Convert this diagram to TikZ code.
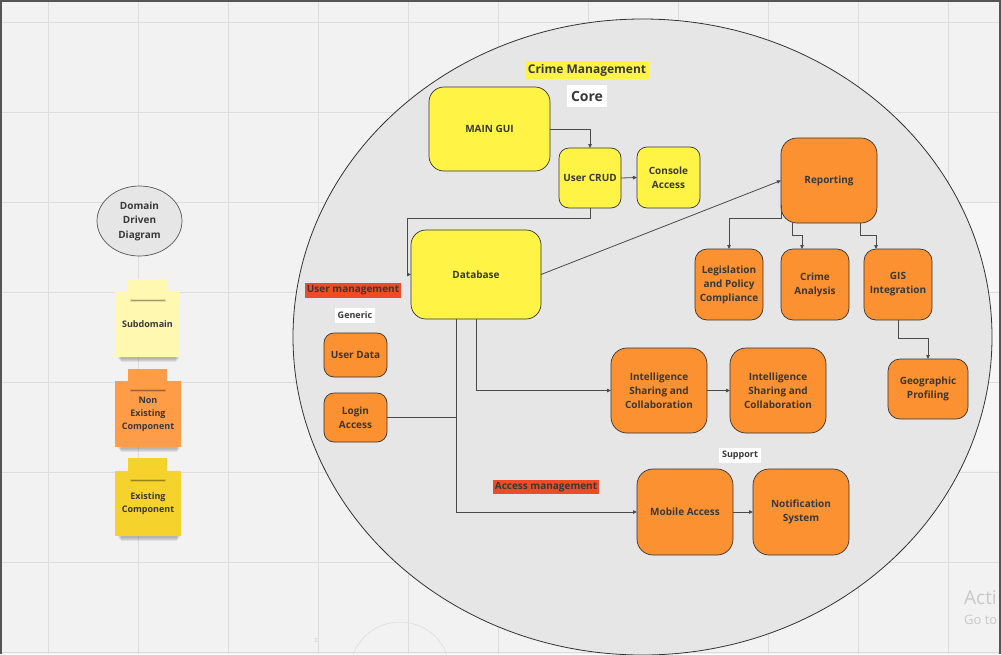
\documentclass[tikz,border=0pt]{standalone}
\usepackage{fontspec}
\setmainfont{Open Sans}
\usetikzlibrary{arrows.meta,calc,shapes.geometric}

\definecolor{bg}{HTML}{F2F2F2}
\definecolor{gridc}{HTML}{DDDDDD}
\definecolor{domain}{HTML}{E6E6E6}
\definecolor{ylw}{HTML}{FFF345}
\definecolor{org}{HTML}{FC9131}
\definecolor{redhl}{HTML}{F04B27}
\definecolor{txt}{HTML}{383838}
\definecolor{edge}{HTML}{333333}
\definecolor{wire}{HTML}{4A4A4A}
\definecolor{notepale}{HTML}{FFF8B0}
\definecolor{noteorg}{HTML}{FF9C48}
\definecolor{noteylw}{HTML}{F6D22C}
\definecolor{frame}{HTML}{555555}
\definecolor{ghost}{HTML}{C8C8C8}

\begin{document}
\begin{tikzpicture}[x=1pt,y=-1pt,
  cbox/.style={draw=edge, line width=0.7pt, inner sep=0pt, outer sep=0pt,
    align=center, text=txt, font=\fontsize{10}{14}\selectfont\bfseries},
  yel/.style={cbox, fill=ylw},
  ora/.style={cbox, fill=org},
  hl/.style={inner sep=0pt, outer sep=0pt, text=txt,
    font=\fontsize{10}{12}\selectfont\bfseries},
  note/.style={inner sep=0pt, outer sep=0pt, align=center, text=txt,
    font=\fontsize{9}{13}\selectfont\bfseries},
  conn/.style={draw=wire, line width=0.8pt, -{Triangle[length=4pt,width=3.5pt]}},
  plain/.style={draw=wire, line width=0.8pt}
]
% canvas
\useasboundingbox (0,0) rectangle (1001,654);
\fill[bg] (0,0) rectangle (1001,654);
\fill[white, opacity=0.35] (947,202) rectangle (1001,470);
\foreach \gx in {48,138,...,948}
  \draw[gridc, line width=0.8pt] (\gx,0) -- (\gx,654);
\foreach \gy in {22,112,...,652}
  \draw[gridc, line width=0.8pt] (0,\gy) -- (1001,\gy);
\draw[gridc, line width=0.6pt] (400,672) circle[radius=50];
\draw[gridc, line width=0.5pt] (315.5,638.5) rectangle (318.5,641.5);

% bounded context
\draw[draw=edge, fill=domain, line width=0.8pt] (642.5,337) ellipse[x radius=349.5, y radius=318];

% section labels
\node[hl, fill=ylw, minimum width=124pt, minimum height=18pt, font=\fontsize{12}{14}\selectfont\bfseries] (tcm) at (587,70) {Crime Management};
\node[hl, fill=white, minimum width=40pt, minimum height=22pt, font=\fontsize{14}{16}\selectfont\bfseries] (tcore) at (587,96) {Core};
\node[hl, fill=redhl, minimum width=96pt, minimum height=15pt] (tum) at (353,290.5) {User management};
\node[hl, fill=white, minimum width=40pt, minimum height=15pt, font=\fontsize{9}{11}\selectfont\bfseries] (tgen) at (355,315.5) {Generic};
\node[hl, fill=redhl, minimum width=106pt, minimum height=14pt] (tam) at (546,487) {Access management};
\node[hl, fill=white, minimum width=42pt, minimum height=15pt, font=\fontsize{9}{11}\selectfont\bfseries] (tsup) at (740,455.5) {Support};

% core components
\node[yel, rounded corners=15pt, minimum width=121pt, minimum height=84pt] (gui) at (489.5,129) {MAIN GUI};
\node[yel, rounded corners=10pt, minimum width=62pt, minimum height=60pt] (crud) at (590,178) {User CRUD};
\node[yel, rounded corners=10pt, minimum width=63pt, minimum height=61pt] (console) at (668.5,177.5) {Console\\Access};
\node[yel, rounded corners=15pt, minimum width=130pt, minimum height=89pt] (db) at (476,274.5) {Database};

\node[ora, rounded corners=16pt, minimum width=96pt, minimum height=85pt] (rep) at (829,180.5) {Reporting};
\node[ora, rounded corners=12pt, minimum width=68pt, minimum height=71pt] (leg) at (729,284.5) {Legislation\\and Policy\\Compliance};
\node[ora, rounded corners=12pt, minimum width=68pt, minimum height=71pt] (crime) at (815,284.5) {Crime\\Analysis};
\node[ora, rounded corners=12pt, minimum width=68pt, minimum height=71pt] (gis) at (898,284.5) {GIS\\Integration};
\node[ora, rounded corners=12pt, minimum width=80pt, minimum height=60pt] (geo) at (928,389) {Geographic\\Profiling};
\node[ora, rounded corners=16pt, minimum width=96pt, minimum height=85pt] (intel1) at (659,390.5) {Intelligence\\Sharing and\\Collaboration};
\node[ora, rounded corners=16pt, minimum width=96pt, minimum height=85pt] (intel2) at (778,390.5) {Intelligence\\Sharing and\\Collaboration};

% generic and support components
\node[ora, rounded corners=10pt, minimum width=63pt, minimum height=44pt] (udata) at (355.5,355) {User Data};
\node[ora, rounded corners=10pt, minimum width=63pt, minimum height=49pt] (login) at (355.5,417.5) {Login\\Access};
\node[ora, rounded corners=16pt, minimum width=96pt, minimum height=86pt] (mobile) at (685,512) {Mobile Access};
\node[ora, rounded corners=16pt, minimum width=96pt, minimum height=86pt] (notif) at (801,512) {Notification\\System};

% connectors
\coordinate (bend1) at (407,218);
\coordinate (join1) at (456,417.5);
\draw[conn] (gui.east) -| (crud.north);
\draw[conn] (crud.east) -- (console.west);
\draw[conn] (crud.south) |- (bend1) |- (db.west);
\draw[conn] (db.east) -- (rep.west);
\draw[conn] ([yshift=-24pt]rep.west) -- ++(0,14) -| (leg.north);
\draw[conn] ([xshift=-37pt]rep.south) -- ++(0,12) -| ([xshift=-13pt]crime.north);
\draw[conn] ([xshift=31pt]rep.south) -- ++(0,12) -| ([xshift=-22pt]gis.north);
\draw[conn] (gis.south) -- ++(0,18) -| (geo.north);
\draw[conn] (db.south) |- (intel1.west);
\draw[conn] ([xshift=-20pt]db.south) |- (mobile.west);
\draw[plain] (login.east) -- (join1);
\draw[conn] (intel1.east) -- (intel2.west);
\draw[conn] (mobile.east) -- (notif.west);

% legend
\node[draw=frame, fill=domain, line width=0.7pt, ellipse, minimum width=85pt, minimum height=70pt, inner sep=0pt,
  align=center, text=txt, font=\fontsize{10}{14.5}\selectfont\bfseries] (ddd) at (139.5,221) {Domain\\Driven\\Diagram};

% sticky note: subdomain
\foreach \k/\o in {0/0.06,1/0.06,2/0.07,3/0.08}
  \fill[black, opacity=\o] (118+\k,355) rectangle (179-\k,359+\k);
\node[note, fill=notepale, minimum width=65pt, minimum height=66pt] (nsub) at (147.5,324) {Subdomain};
\fill[notepale] (128,279) rectangle (167,300);
\fill[black, opacity=0.30] (131,299.6) rectangle (165,301);
\fill[black, opacity=0.10] (130,298.5) rectangle (166,302);

% sticky note: non existing component
\foreach \k/\o in {0/0.06,1/0.06,2/0.07,3/0.08}
  \fill[black, opacity=\o] (118+\k,445) rectangle (180-\k,449+\k);
\node[note, fill=noteorg, minimum width=66pt, minimum height=66pt] (nnon) at (148,414) {Non\\Existing\\Component};
\fill[noteorg] (128,369) rectangle (167,390);
\fill[black, opacity=0.30] (131,389.6) rectangle (165,391);
\fill[black, opacity=0.10] (130,388.5) rectangle (166,392);

% sticky note: existing component
\foreach \k/\o in {0/0.06,1/0.06,2/0.07,3/0.08}
  \fill[black, opacity=\o] (118+\k,534) rectangle (180-\k,538+\k);
\node[note, fill=noteylw, minimum width=66pt, minimum height=65pt] (nex) at (148,503.5) {Existing\\Component};
\fill[noteylw] (128,458) rectangle (167,480);
\fill[black, opacity=0.30] (131,479.6) rectangle (165,481);
\fill[black, opacity=0.10] (130,478.5) rectangle (166,482);

% faint overlay text at the lower right corner
\node[anchor=west, inner sep=0pt, text=ghost, font=\fontsize{19}{21}\selectfont] (ov1) at (964,598) {Acti};
\node[anchor=west, inner sep=0pt, text=ghost, font=\fontsize{13}{15}\selectfont] (ov2) at (964,620) {Go to};

% window frame
\fill[frame] (0,0) rectangle (1001,2);
\fill[frame] (0,0) rectangle (1.5,654);
\fill[frame] (999,0) rectangle (1001,654);
\end{tikzpicture}
\end{document}
